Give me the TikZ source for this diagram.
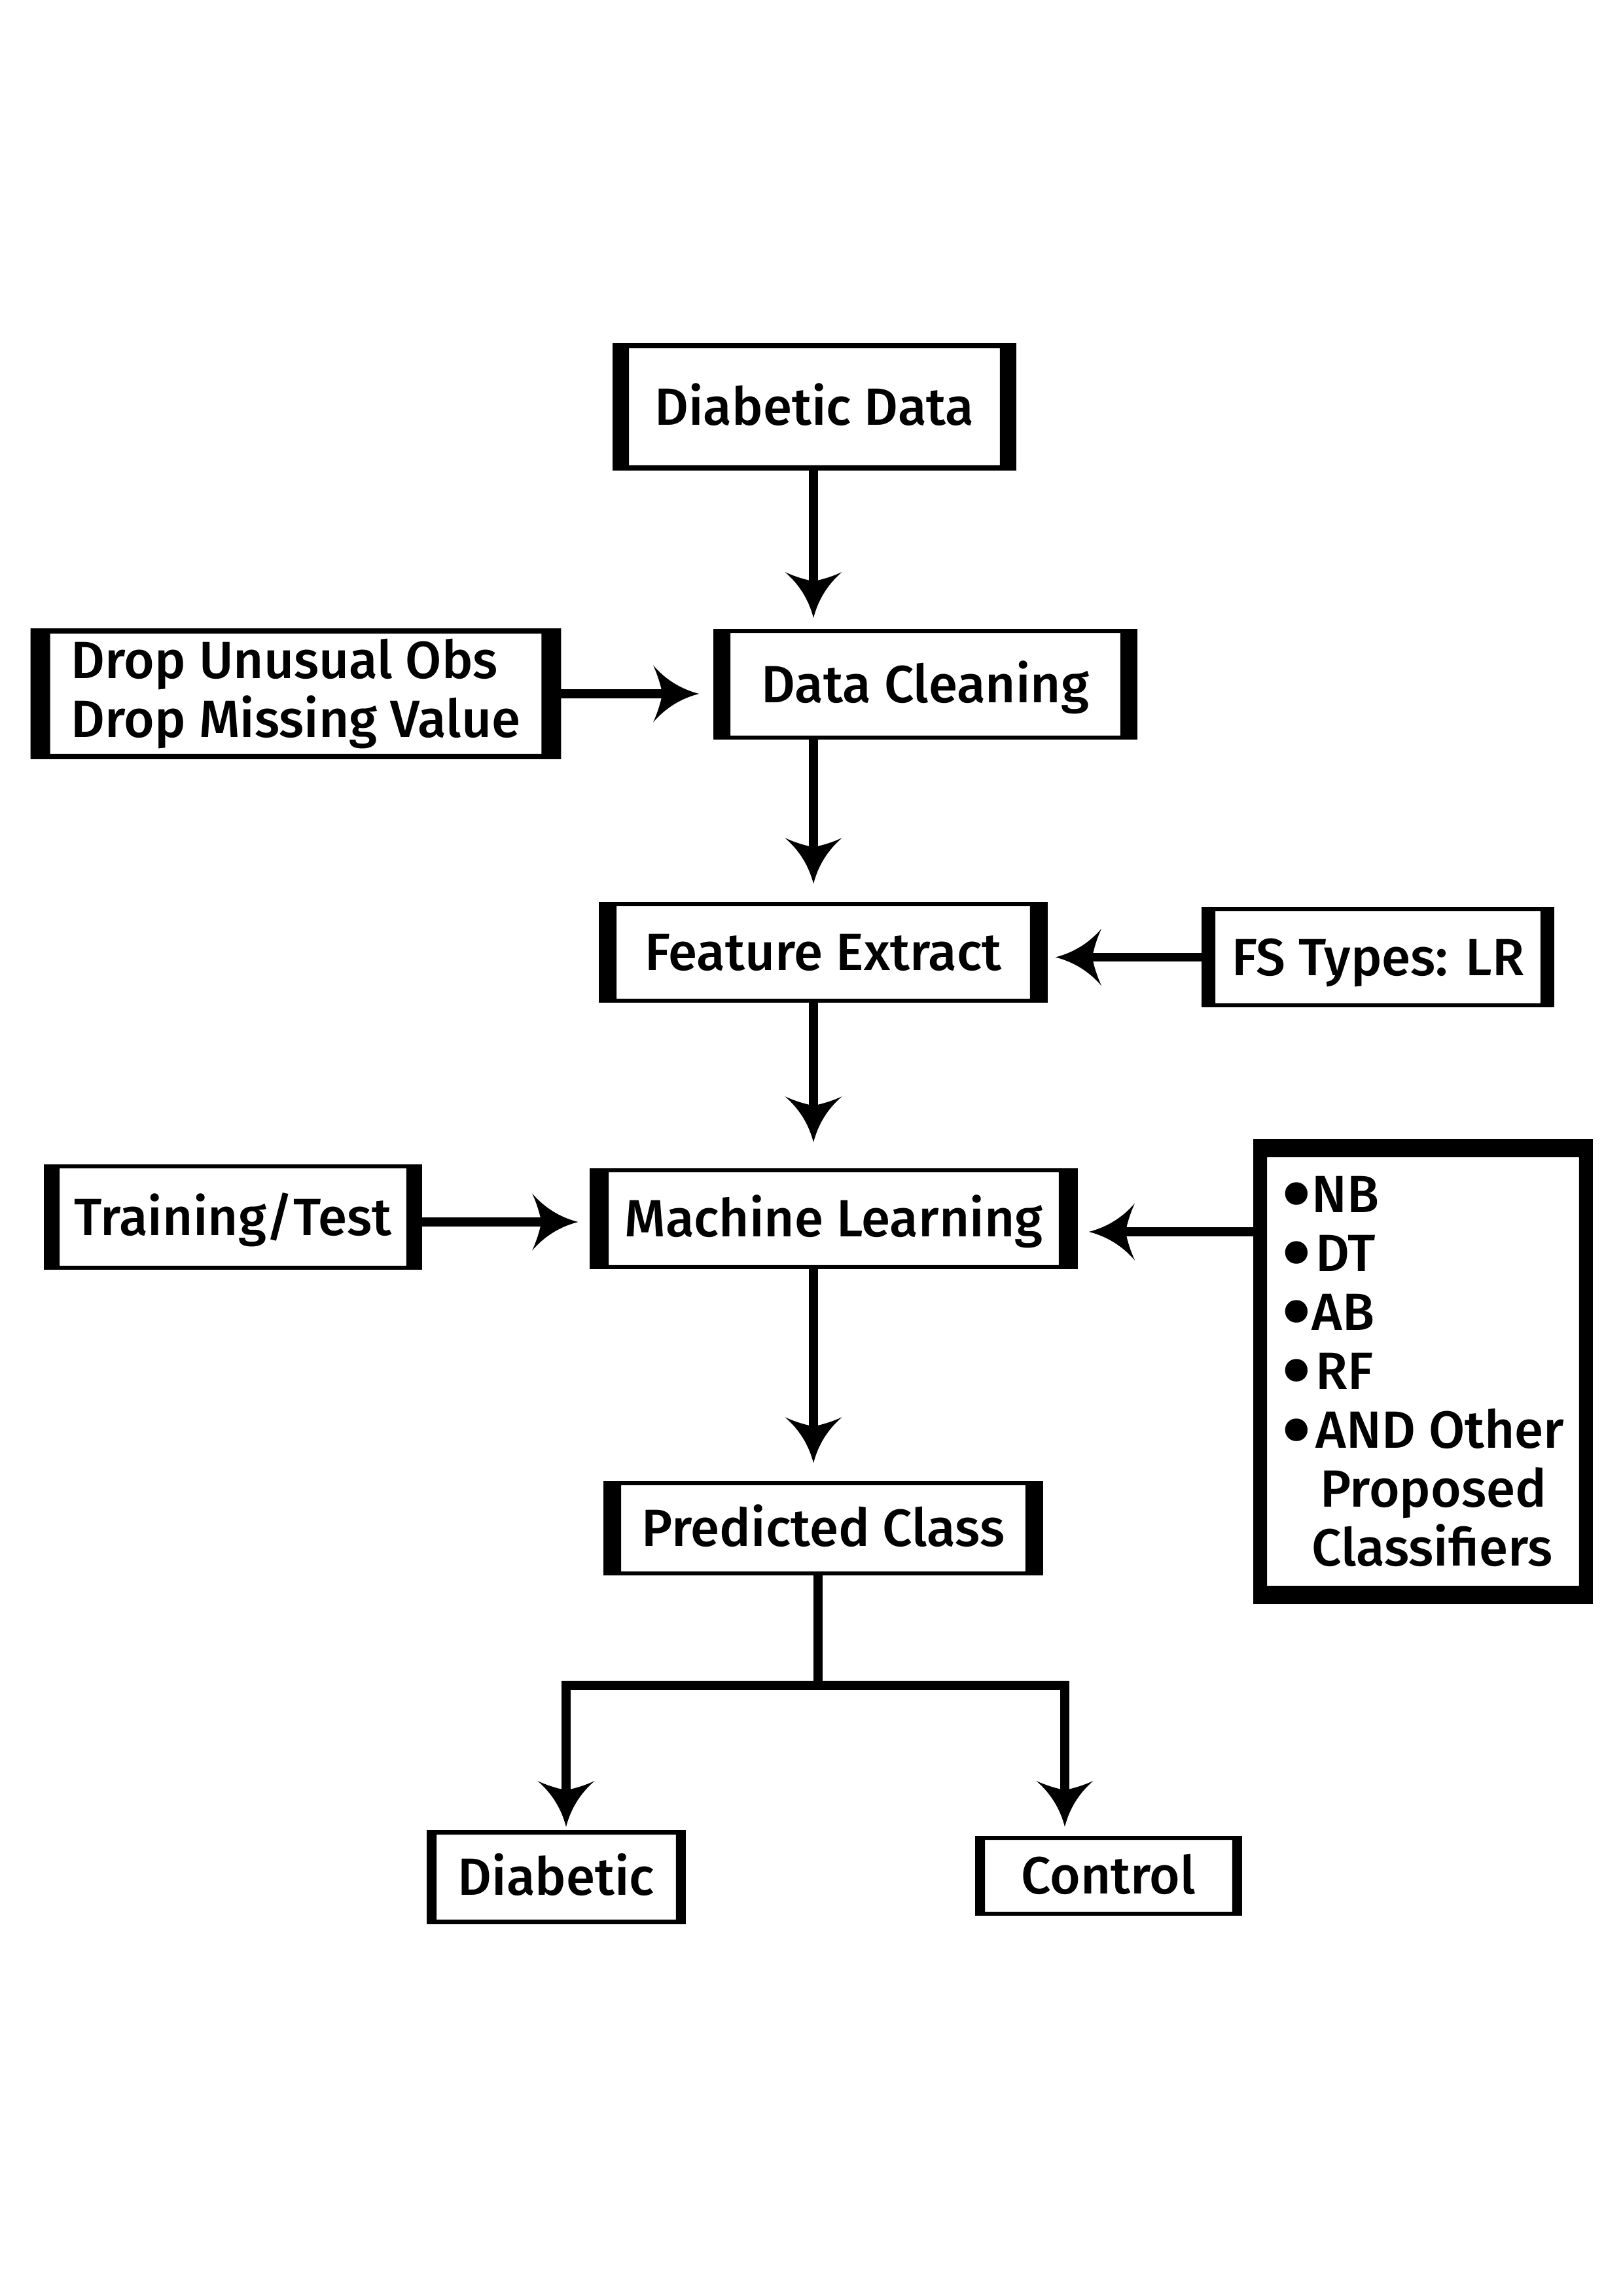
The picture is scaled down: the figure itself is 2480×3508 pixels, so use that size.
\documentclass[tikz,border=0pt]{standalone}
\usepackage{fontspec}
\IfFontExistsTF{Fira Sans Medium}{\setmainfont{Fira Sans Medium}}{\setmainfont{Fira Sans}}
\usetikzlibrary{calc}
\newcommand\txtfont{\fontsize{19.27pt}{21.7pt}\selectfont}
\newcommand\blt{\raisebox{-0.23em}[0pt][0pt]{\scalebox{1.7}{•}}}
\newcommand\bsp{\kern0.08em}
\newcommand\frm[3]{\fill[black,even odd rule] (#1.south west) rectangle (#1.north east)
  ([shift={(#2,-#3)}]#1.south west) rectangle ([shift={(-#2,#3)}]#1.north east);}
\pgfdeclarearrow{
  name=Barb,
  setup code={
    \pgfarrowssettipend{0pt}
    \pgfarrowssetbackend{-16.9pt}
    \pgfarrowssetlineend{-12pt}
  },
  drawing code={
    \pgfpathmoveto{\pgfpointorigin}
    \pgfpathquadraticcurveto{\pgfpoint{-10.1pt}{2.6pt}}{\pgfpoint{-16.9pt}{10.5pt}}
    \pgfpathquadraticcurveto{\pgfpoint{-14.6pt}{5.5pt}}{\pgfpoint{-13.5pt}{0pt}}
    \pgfpathquadraticcurveto{\pgfpoint{-14.6pt}{-5.5pt}}{\pgfpoint{-16.9pt}{-10.5pt}}
    \pgfpathquadraticcurveto{\pgfpoint{-10.1pt}{-2.6pt}}{\pgfpointorigin}
    \pgfpathclose
    \pgfusepathqfill
  }
}
\tikzset{
  sz/.style 2 args={minimum width=#1*0.24093pt, minimum height=#2*0.24093pt},
  box/.style={inner sep=0pt, font=\txtfont, text height=13.28pt, text depth=0pt},
  mbox/.style={inner sep=0pt, font=\txtfont, align=left},
  conn/.style={line width=3.3pt, black},
  arr/.style={conn, -{Barb}},
}
\begin{document}
\begin{tikzpicture}[x=0.24093pt,y=-0.24093pt]
\fill[white] (0,0) rectangle (2480,3508);
% nodes
\node[box, sz={615}{193}] (dd) at (1244.5,621.5) {Diabetic Data};
\node[box, sz={646}{167}] (dc) at (1414,1045.5) {Data Cleaning};
\node[mbox, sz={809}{198}] (drop) at (452,1060) {Drop Unusual Obs\\Drop Missing Value};
\node[box, sz={684}{152}] (fe) at (1258,1455) {Feature Extract};
\node[box, sz={537}{151}] (fs) at (2105.5,1462.5) {FS Types: LR};
\node[box, sz={576}{159}] (tt) at (356,1859.5) {Training/Test};
\node[box, sz={744}{152}] (ml) at (1274,1862) {Machine Learning};
\node[mbox, sz={517}{709}] (cl) at (2174.5,2095.5)
  {\blt NB\\\blt\bsp DT\\\blt AB\\\blt\bsp RF\\\blt\bsp AND Other\\\phantom{\blt}\bsp\bsp Proposed\\\phantom{\blt}Classifiers};
\node[box, sz={670}{142}] (pc) at (1258,2335) {Predicted Class};
\node[box, sz={394}{142}] (db) at (850,2868) {Diabetic};
\node[box, sz={406}{120}] (ct) at (1694,2866) {Control};
% frames
\frm{dd}{25}{8}
\frm{dc}{26}{6}
\frm{drop}{30}{8}
\frm{fe}{27}{6}
\frm{fs}{21}{6}
\frm{tt}{24}{6}
\frm{ml}{29}{6}
\frm{cl}{21}{28}
\frm{pc}{27}{6}
\frm{db}{15}{7}
\frm{ct}{15}{6}
% helper coordinates
\coordinate (axis) at (1243,0);
\coordinate (mlin) at (1646,1882);
\coordinate (ttout) at (644,1867);
\coordinate (jl) at (865,2575);
\coordinate (jr) at (1627,2575);
\coordinate (fork) at (1250,2575);
% connectors
\draw[arr, shorten >=4.1pt] (axis |- dd.south) -- (axis |- dc.north);
\draw[arr, shorten >=6.7pt] (axis |- dc.south) -- (axis |- fe.north);
\draw[arr, shorten >=9.6pt] (axis |- fe.south) -- (axis |- ml.north);
\draw[arr, shorten >=6.7pt] (axis |- ml.south) -- (axis |- pc.north);
\draw[arr, shorten >=5.3pt] (drop.east) -- (drop.east -| dc.west);
\draw[arr, shorten >=2.9pt] (fs.west) -- (fs.west -| fe.east);
\draw[arr, shorten >=4.3pt] (ttout) -- (ttout -| ml.west);
\draw[arr, shorten >=4.3pt] (mlin -| cl.west) -- (mlin);
\draw[arr, shorten >=1.2pt, line join=miter] (fork |- pc.south) -- (fork) -| (jl |- db.north);
\draw[arr, shorten >=3.4pt, line join=miter] (fork) -| (jr |- ct.north);
\end{tikzpicture}
\end{document}
